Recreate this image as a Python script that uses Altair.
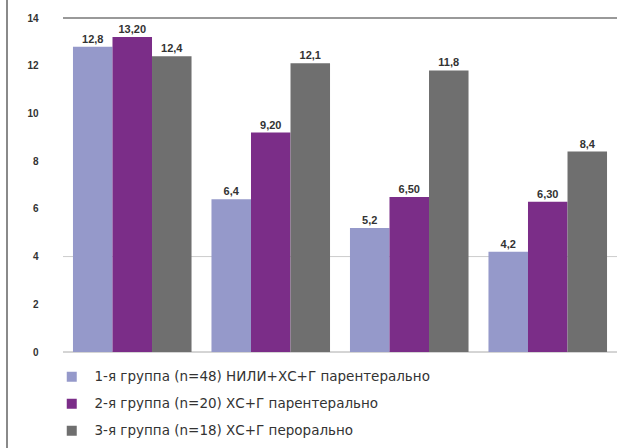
import altair as alt
import pandas as pd

groups = ["A", "B", "C", "D"]
series = [
    "1-я группа (n=48) НИЛИ+ХС+Г парентерально",
    "2-я группа (n=20) ХС+Г парентерально",
    "3-я группа (n=18) ХС+Г перорально",
]
values_s1 = [12.8, 6.4, 5.2, 4.2]
values_s2 = [13.2, 9.2, 6.5, 6.3]
values_s3 = [12.4, 12.1, 11.8, 8.4]
labels_s1 = ["12,8", "6,4", "5,2", "4,2"]
labels_s2 = ["13,20", "9,20", "6,50", "6,30"]
labels_s3 = ["12,4", "12,1", "11,8", "8,4"]
colors = ["#9599CA", "#7B2D88", "#6F6F6F"]
y_ticks = [0, 2, 4, 6, 8, 10, 12, 14]

rows = []
for s, vals, labs in zip(series, [values_s1, values_s2, values_s3], [labels_s1, labels_s2, labels_s3]):
    for g, v, l in zip(groups, vals, labs):
        rows.append({"group": g, "series": s, "value": v, "label": l})
df = pd.DataFrame(rows)

x = alt.X("group:N", sort=groups, axis=None,
          scale=alt.Scale(paddingInner=0.144, paddingOuter=0.072))
xo = alt.XOffset("series:N", sort=series, scale=alt.Scale(paddingInner=0, paddingOuter=0))
y_axis = alt.Axis(values=y_ticks, title=None, domain=False, ticks=False, grid=False,
                  labelPadding=25, labelFontSize=10, labelFontWeight="bold",
                  labelColor="#333333", labelFont="Liberation Sans")
y = alt.Y("value:Q", scale=alt.Scale(domain=[0, 14], nice=False), axis=y_axis)

grid4 = alt.Chart(pd.DataFrame({"value": [4]})).mark_rule(color="#cccccc", strokeWidth=1).encode(y=y)
base0 = alt.Chart(pd.DataFrame({"value": [0]})).mark_rule(color="#aaaaaa", strokeWidth=1).encode(y=y)
top14 = alt.Chart(pd.DataFrame({"value": [14]})).mark_rule(color="#777777", strokeWidth=1.5).encode(y=y)

bars = alt.Chart(df).mark_bar().encode(
    x=x, xOffset=xo, y=y,
    color=alt.Color("series:N", sort=series,
                    scale=alt.Scale(domain=series, range=colors),
                    legend=alt.Legend(title=None, orient="none", legendX=2, legendY=352,
                                      symbolType="square", symbolSize=100,
                                      symbolStrokeWidth=0, labelFontSize=13.5,
                                      labelColor="#333333", labelFont="DejaVu Sans",
                                      rowPadding=12, labelOffset=16, labelLimit=500)),
)
text = alt.Chart(df).mark_text(dy=-7, fontSize=11, fontWeight="bold", color="#333333",
                               font="Liberation Sans").encode(
    x=x, xOffset=xo, y=y, text="label:N")

border = alt.Chart(pd.DataFrame({"value": [0]})).mark_rule(color="#8a8a8a", strokeWidth=2).encode(
    x=alt.value(-56), y=alt.value(-18), y2=alt.value(430))

chart = alt.layer(grid4, base0, bars, top14, text, border).properties(
    width=554, height=334,
    background="white",
    autosize=alt.AutoSizeParams(type="none"),
    padding={"left": 63, "top": 18, "right": 20, "bottom": 96},
).configure_view(stroke=None)

chart.save("out.html", embed_options={"renderer": "svg", "actions": False})
